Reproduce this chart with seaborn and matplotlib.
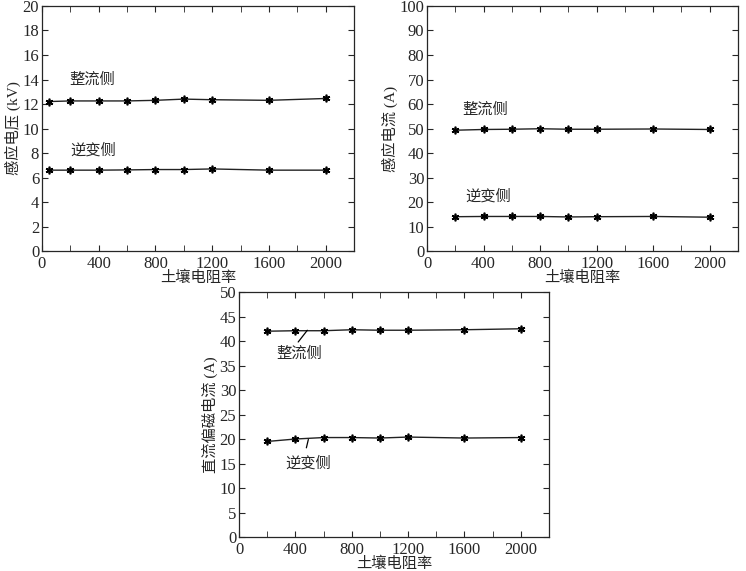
import matplotlib
matplotlib.use("Agg")
import matplotlib.pyplot as plt
import seaborn as sns
import pandas as pd
from matplotlib.ticker import MultipleLocator

# ---- data ----
x_v = [50, 200, 400, 600, 800, 1000, 1200, 1600, 2000]
volt_rect = [12.2, 12.25, 12.25, 12.25, 12.3, 12.4, 12.35, 12.3, 12.45]
volt_inv = [6.6, 6.6, 6.6, 6.62, 6.65, 6.65, 6.7, 6.6, 6.6]

x_i = [200, 400, 600, 800, 1000, 1200, 1600, 2000]
cur_rect = [49.3, 49.6, 49.7, 49.9, 49.7, 49.7, 49.8, 49.6]
cur_inv = [14.0, 14.1, 14.1, 14.1, 13.9, 14.0, 14.1, 13.8]

x_dc = [200, 400, 600, 800, 1000, 1200, 1600, 2000]
dc_rect = [42.0, 42.1, 42.1, 42.3, 42.2, 42.2, 42.3, 42.5]
dc_inv = [19.5, 20.0, 20.3, 20.3, 20.2, 20.4, 20.2, 20.3]

series_names = ["整流侧", "逆变侧"]
xlabel = "土壤电阻率"
ylabels = ["感应电压 (kV)", "感应电流 (A)", "直流偏磁电流 (A)"]

sns.set_style("ticks")
plt.rcParams["font.family"] = ["Liberation Serif", "Noto Sans CJK SC"]
plt.rcParams["xtick.direction"] = "in"
plt.rcParams["ytick.direction"] = "in"
plt.rcParams["xtick.top"] = True
plt.rcParams["ytick.right"] = True
plt.rcParams["axes.linewidth"] = 0.9

fig = plt.figure(figsize=(7.46, 5.71), dpi=100)
ax1 = fig.add_axes([0.0563, 0.5604, 0.4182, 0.4291])
ax2 = fig.add_axes([0.5724, 0.5604, 0.4169, 0.4291])
ax3 = fig.add_axes([0.3204, 0.0595, 0.4155, 0.4291])

mk = dict(marker=(6, 2, 0), markersize=5.5, markeredgewidth=1.2,
          markeredgecolor="black", color="#222222", linewidth=1.0)


def draw(ax, x, a, b, ymax, ystep, ylab):
    df = pd.DataFrame({"x": list(x) * 2, "y": list(a) + list(b),
                       "s": [series_names[0]] * len(x) + [series_names[1]] * len(x)})
    for name in series_names:
        sns.lineplot(data=df[df.s == name], x="x", y="y", ax=ax, legend=False, **mk)
    ax.set_xlim(0, 2200)
    ax.set_ylim(0, ymax)
    ax.set_xticks([0, 400, 800, 1200, 1600, 2000])
    ax.xaxis.set_minor_locator(MultipleLocator(200))
    ax.yaxis.set_major_locator(MultipleLocator(ystep))
    ax.tick_params(which="both", direction="in", top=True, right=True, labelsize=12)
    ax.tick_params(axis="x", pad=3.5)
    ax.tick_params(axis="y", pad=2)
    ax.tick_params(which="major", length=4)
    ax.tick_params(which="minor", length=4)
    ax.set_xlabel(xlabel, fontsize=11, labelpad=-1)
    ax.set_ylabel(ylab, fontsize=11, labelpad=1)
    for sp in ax.spines.values():
        sp.set_visible(True)


draw(ax1, x_v, volt_rect, volt_inv, 20, 2, ylabels[0])
draw(ax2, x_i, cur_rect, cur_inv, 100, 10, ylabels[1])
draw(ax3, x_dc, dc_rect, dc_inv, 50, 5, ylabels[2])

tk = dict(fontsize=11, ha="center", va="center")
ax1.text(352, 14.0, series_names[0], **tk)
ax1.text(360, 8.2, series_names[1], **tk)
ax2.text(410, 57.5, series_names[0], **tk)
ax2.text(431, 22.4, series_names[1], **tk)
ax3.text(431, 37.4, series_names[0], **tk)
ax3.text(488, 15.0, series_names[1], **tk)
lp = dict(arrowstyle="-", color="black", lw=0.9, shrinkA=0, shrinkB=0)
ax3.annotate("", xy=(485, 42.2), xytext=(420, 39.8), arrowprops=lp)
ax3.annotate("", xy=(492, 19.9), xytext=(478, 18.2), arrowprops=lp)

fig.savefig("out.png", dpi=100)
